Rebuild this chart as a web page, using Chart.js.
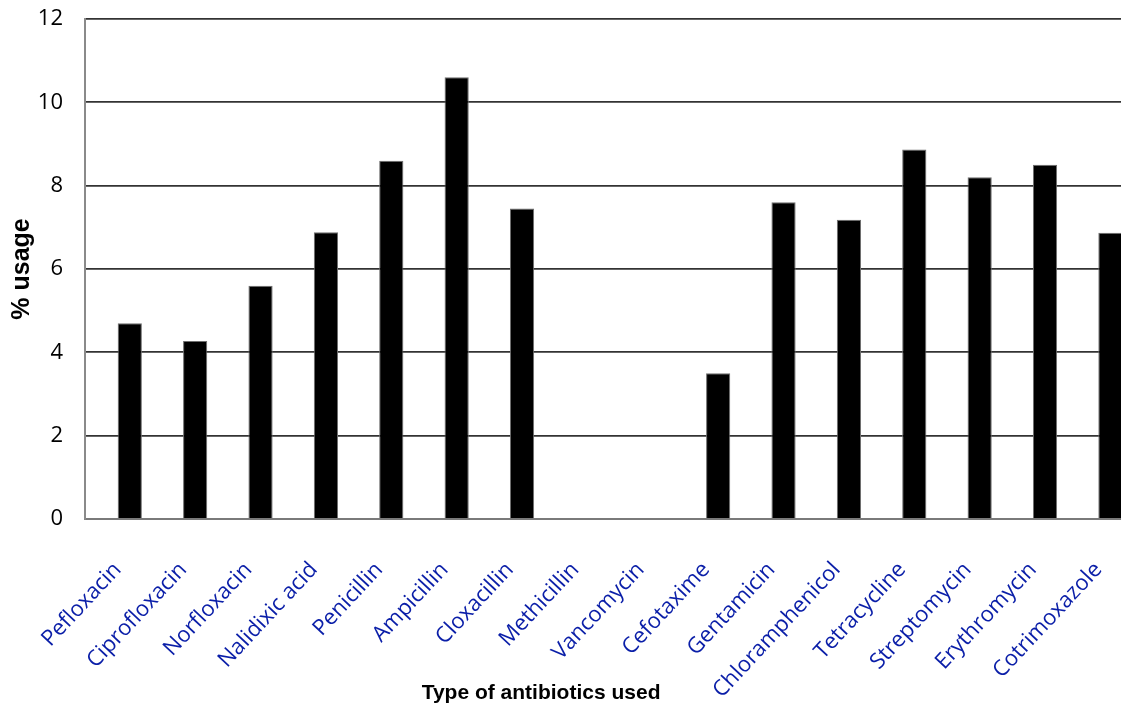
<!DOCTYPE html>
<html lang="en">
<head>
    <meta charset="UTF-8">
    <title>% usage by antibiotic</title>
    <script src="https://cdn.jsdelivr.net/npm/chart.js"></script>
    <style>
        * {
            margin: 0;
            padding: 0;
            box-sizing: border-box;
        }

        body {
            background: #ffffff;
            overflow: hidden;
        }

        /* the original plot runs a little past the right edge of the picture */
        .chart-container {
            width: 1131px;
            height: 711px;
            position: relative;
        }
    </style>
</head>
<body>

    <div class="chart-container">
        <canvas id="myChart"></canvas>
    </div>

    <script>
        // categories
        const antibiotics = [
            "Pefloxacin", "Ciprofloxacin", "Norfloxacin", "Nalidixic acid",
            "Penicillin", "Ampicillin", "Cloxacillin", "Methicillin",
            "Vancomycin", "Cefotaxime", "Gentamicin", "Chloramphenicol",
            "Tetracycline", "Streptomycin", "Erythromycin", "Cotrimoxazole"
        ];

        // % usage
        const usage = [4.7, 4.27, 5.6, 6.88, 8.6, 10.6, 7.45, 0, 0, 3.5, 7.6, 7.18, 8.87, 8.2, 8.5, 6.87];

        // the original has an empty first series, so bars sit right of each tick
        const emptySeries = antibiotics.map(() => null);

        const yTicks = [0, 2, 4, 6, 8, 10, 12];

        const xTitle = "Type of antibiotics used";

        // x title sits left of centre in the original, so draw it by hand
        const xTitlePlugin = {
            id: "xTitle",
            afterDraw(chart) {
                const { ctx, chartArea } = chart;
                ctx.save();
                ctx.font = "bold 21px 'Liberation Sans'";
                ctx.fillStyle = "#000000";
                ctx.textAlign = "center";
                ctx.textBaseline = "middle";
                ctx.fillText(xTitle, chartArea.left + chartArea.width * 0.436, chart.height - 18);
                ctx.restore();
            }
        };

        const ctx = document.getElementById("myChart").getContext("2d");
        const myChart = new Chart(ctx, {
            type: "bar",
            data: {
                labels: antibiotics,
                datasets: [
                    {
                        label: "",
                        data: emptySeries,
                        backgroundColor: "#ffffff"
                    },
                    {
                        label: "% usage",
                        data: usage,
                        backgroundColor: "#000000",
                        borderColor: "#6e6e6e",
                        borderWidth: { left: 1, right: 1, top: 1, bottom: 0 },
                        borderSkipped: "bottom"
                    }
                ]
            },
            options: {
                responsive: true,
                maintainAspectRatio: false,
                animation: false,
                devicePixelRatio: 1,
                layout: {
                    padding: { top: 19, right: 0, left: 0, bottom: 0 }
                },
                datasets: {
                    bar: {
                        categoryPercentage: 0.74,
                        barPercentage: 1
                    }
                },
                plugins: {
                    legend: { display: false },
                    tooltip: { enabled: false }
                },
                scales: {
                    x: {
                        grid: {
                            display: false,
                            drawTicks: false
                        },
                        border: {
                            color: "#7a7a7a",
                            width: 2
                        },
                        ticks: {
                            color: "#0a1ea8",
                            font: { family: "'Open Sans'", size: 22 },
                            minRotation: 47,
                            maxRotation: 47,
                            autoSkip: false,
                            padding: 38
                        },
                        afterFit: (scale) => {
                            scale.height = 192;
                            scale.paddingLeft = 0;
                            scale.paddingRight = 0;
                        }
                    },
                    y: {
                        min: 0,
                        max: 12,
                        afterBuildTicks: (scale) => {
                            scale.ticks = yTicks.map(v => ({ value: v }));
                        },
                        grid: {
                            color: "#333333",
                            lineWidth: 1.8,
                            drawTicks: false
                        },
                        border: {
                            color: "#8a8a8a",
                            width: 2
                        },
                        ticks: {
                            color: "#000000",
                            font: { family: "'Open Sans'", size: 22 },
                            padding: 22
                        },
                        title: {
                            display: true,
                            text: "% usage",
                            color: "#000000",
                            font: { family: "'Liberation Sans'", size: 25, weight: "bold" },
                            padding: { top: 7, bottom: 0 }
                        },
                        afterFit: (scale) => {
                            scale.width = 85;
                            scale.paddingTop = 0;
                            scale.paddingBottom = 0;
                        }
                    }
                }
            },
            plugins: [xTitlePlugin]
        });
    </script>

</body>
</html>
